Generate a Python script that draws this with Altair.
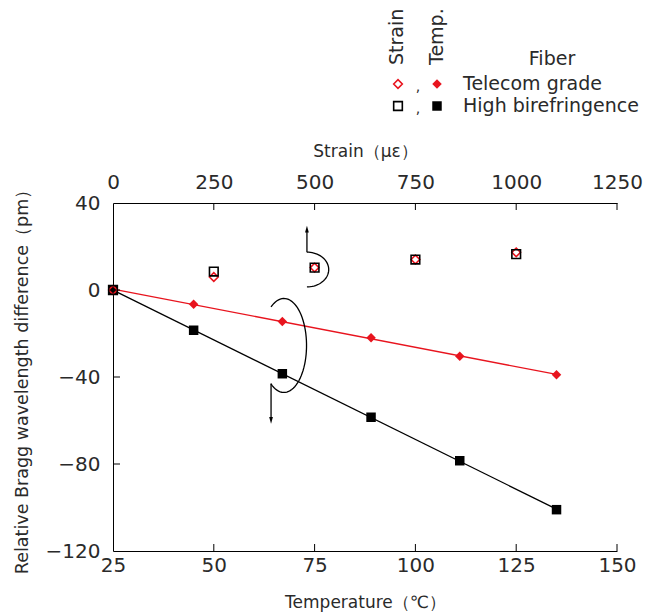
import altair as alt
import pandas as pd
import numpy as np

FONT = "DejaVu Sans"
TXT = "#2a2a2a"
RED = "#e8141e"
BLACK = "#000000"

# ---- data ----
temps = [25, 45, 67, 89, 111, 135]
telecom_temp = [0, -6.5, -14.5, -22, -30.5, -39]
hibi_temp = [0, -18.5, -38.5, -58.5, -78.5, -101]

strains = [0, 250, 500, 750, 1000]
telecom_strain = [0, 6, 10.3, 14, 17.3]
hibi_strain = [0, 8.5, 10.3, 14, 16.5]

fibers = ["Telecom grade", "High birefringence"]
temp_ticks = [50, 75, 100, 125, 150]
strain_ticks = [250, 500, 750, 1000, 1250]
y_ticks = [0, -40, -80]

W, H = 504, 348

temp_df = pd.DataFrame({
    "T": temps * 2,
    "d": telecom_temp + hibi_temp,
    "fiber": [fibers[0]] * len(temps) + [fibers[1]] * len(temps),
})
strain_df = pd.DataFrame({
    "S": strains * 2,
    "d": telecom_strain + hibi_strain,
    "fiber": [fibers[0]] * len(strains) + [fibers[1]] * len(strains),
})

color = alt.Color("fiber:N", scale=alt.Scale(domain=fibers, range=[RED, BLACK]), legend=None)
shape = alt.Shape("fiber:N", scale=alt.Scale(domain=fibers, range=["diamond", "square"]), legend=None)

xT = alt.X("T:Q", scale=alt.Scale(domain=[25, 150], nice=False),
           axis=alt.Axis(orient="bottom", values=[25, 50, 75, 100, 125, 150], ticks=False, format="d",
                         title="Temperature（℃）", labelPadding=4, titlePadding=19))
yD = alt.Y("d:Q", scale=alt.Scale(domain=[-120, 40], nice=False),
           axis=alt.Axis(values=[-120, -80, -40, 0, 40], ticks=False, format="d",
                         title="Relative Bragg wavelength difference（pm）",
                         labelPadding=13, titlePadding=14, titleFontSize=17.5))

lines = alt.Chart(temp_df).transform_regression("T", "d", groupby=["fiber"]).mark_line(
    strokeWidth=1.3).encode(x=xT, y=yD, color=color)
pts_temp = alt.Chart(temp_df).mark_point(filled=True, size=90, opacity=1).encode(
    x=xT, y=yD, color=color, shape=shape)

# annotation arcs (curved arrows)
t1 = np.linspace(-90, 90, 40) * np.pi / 180
arc1 = pd.DataFrame({"T": 73.1 + 5.4 * np.cos(t1), "d": 9.4 + 8.0 * np.sin(t1), "o": range(40)})
t2 = np.linspace(-125, 125, 60) * np.pi / 180
arc2 = pd.DataFrame({"T": 67.4 + 5.6 * np.cos(t2), "d": -25.5 + 21.6 * np.sin(t2), "o": range(60)})
shafts = pd.DataFrame({"T": [73.1, 73.1, 64.2, 64.2], "d": [17.4, 27.5, -43.0, -59.5],
                       "g": ["a", "a", "b", "b"]})
heads = pd.DataFrame({"T": [73.1, 64.2], "d": [27.6, -59.6],
                      "s": ["M0,-1L0.45,0.6L-0.45,0.6Z", "M0,1L0.45,-0.6L-0.45,-0.6Z"]})

arc1_l = alt.Chart(arc1).mark_line(color=BLACK, strokeWidth=1.3).encode(
    x="T:Q", y="d:Q", order="o:Q")
arc2_l = alt.Chart(arc2).mark_line(color=BLACK, strokeWidth=1.3).encode(
    x="T:Q", y="d:Q", order="o:Q")
shaft_l = alt.Chart(shafts).mark_line(color=BLACK, strokeWidth=1.3).encode(
    x="T:Q", y="d:Q", detail="g:N")
head_p = alt.Chart(heads).mark_point(filled=True, color=BLACK, size=70, opacity=1).encode(
    x="T:Q", y="d:Q", shape=alt.Shape("s:N", scale=None))

# inward ticks
bt = alt.Chart(pd.DataFrame({"T": temp_ticks})).mark_rule(color=BLACK).encode(
    x="T:Q", y=alt.value(H), y2=alt.value(H - 7))
lt = alt.Chart(pd.DataFrame({"d": y_ticks})).mark_rule(color=BLACK).encode(
    y="d:Q", x=alt.value(0), x2=alt.value(7))

temp_layer = alt.layer(lines, arc1_l, arc2_l, shaft_l, head_p, bt, lt, pts_temp)

xS = alt.X("S:Q", scale=alt.Scale(domain=[0, 1250], nice=False),
           axis=alt.Axis(orient="top", values=[0, 250, 500, 750, 1000, 1250], ticks=False, format="d",
                         title="Strain（με）", labelPadding=11, titlePadding=12))
pts_strain = alt.Chart(strain_df).mark_point(filled=False, size=75, strokeWidth=1.6, opacity=1).encode(
    x=xS, y="d:Q", color=color, shape=shape)
tt = alt.Chart(pd.DataFrame({"S": strain_ticks})).mark_rule(color=BLACK).encode(
    x="S:Q", y=alt.value(0), y2=alt.value(7))
strain_layer = alt.layer(tt, pts_strain)

# custom legend
LFS = 19
leg_txt = pd.DataFrame({
    "label": ["Telecom grade", "High birefringence"],
    "px": [350, 350], "py": [-119, -97],
})
leg_text = alt.Chart(leg_txt).mark_text(align="left", baseline="middle", fontSize=LFS,
                                        font=FONT, color=TXT).encode(
    x=alt.X("px:Q", scale=None), y=alt.Y("py:Q", scale=None), text="label:N")
fiber_t = alt.Chart(pd.DataFrame({"a": [1]})).mark_text(
    text="Fiber", align="center", baseline="middle", fontSize=LFS, font=FONT, color=TXT).encode(
    x=alt.value(439), y=alt.value(-144))
strain_t = alt.Chart(pd.DataFrame({"a": [1]})).mark_text(
    text="Strain", angle=270, align="left", baseline="middle", fontSize=LFS, font=FONT, color=TXT).encode(
    x=alt.value(284), y=alt.value(-138))
tempr_t = alt.Chart(pd.DataFrame({"a": [1]})).mark_text(
    text="Temp.", angle=270, align="left", baseline="middle", fontSize=LFS, font=FONT, color=TXT).encode(
    x=alt.value(324), y=alt.value(-138))
comma_df = pd.DataFrame({"px": [305, 305], "py": [-116, -94]})
commas = alt.Chart(comma_df).mark_text(text=",", fontSize=14, font=FONT, color=TXT,
                                       baseline="middle", align="center").encode(
    x=alt.X("px:Q", scale=None), y=alt.Y("py:Q", scale=None))
leg_sym = pd.DataFrame({
    "fiber": fibers * 2,
    "px": [285, 285, 324, 324],
    "py": [-119, -97, -119, -97],
    "f": ["open", "open", "fill", "fill"],
})
leg_open = alt.Chart(leg_sym).transform_filter("datum.f == 'open'").mark_point(
    filled=False, size=75, strokeWidth=1.6, opacity=1).encode(
    x=alt.X("px:Q", scale=None), y=alt.Y("py:Q", scale=None), color=color, shape=shape)
leg_fill = alt.Chart(leg_sym).transform_filter("datum.f == 'fill'").mark_point(
    filled=True, size=90, opacity=1).encode(
    x=alt.X("px:Q", scale=None), y=alt.Y("py:Q", scale=None), color=color, shape=shape)
legend_layer = alt.layer(leg_text, fiber_t, strain_t, tempr_t, commas, leg_open, leg_fill)

chart = alt.layer(temp_layer, strain_layer, legend_layer).resolve_scale(
    x="independent", color="shared", shape="shared"
).properties(
    width=W, height=H, padding={"left": 5, "top": 0, "right": 5, "bottom": 5}
).configure_view(stroke=None).configure_axis(
    grid=False, domainColor=BLACK, domainWidth=1, labelFont=FONT, titleFont=FONT,
    labelFontSize=20, titleFontSize=17, labelColor=TXT, titleColor=TXT,
    titleFontWeight="normal", labelFlush=False
)

chart.save("out.html", embed_options={"renderer": "svg", "actions": False})
